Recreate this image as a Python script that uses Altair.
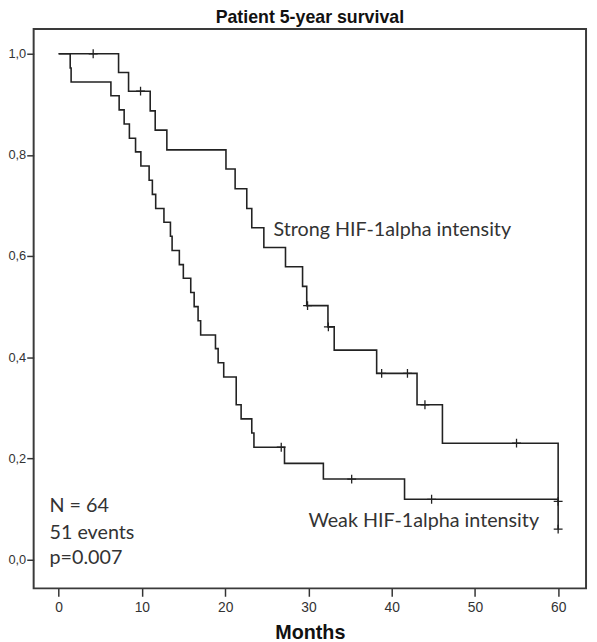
import altair as alt
import pandas as pd

# ---- data ----
strong_times = [0, 7.2, 8.4, 11.0, 11.6, 13.0, 20.1, 21.2, 22.6, 23.2, 24.65, 27.25,
                29.3, 29.8, 32.35, 33.1, 38.2, 43.05, 46.1, 60.0]
strong_surv = [1.0, 0.963, 0.926, 0.887, 0.849, 0.810, 0.772, 0.733, 0.694, 0.656, 0.617,
               0.579, 0.540, 0.502, 0.460, 0.414, 0.368, 0.306, 0.230, 0.115]
strong_cens_t = [4.15, 9.84, 29.9, 32.4, 38.8, 41.9, 44.0, 55.0, 60.0]
strong_cens_s = [1.0, 0.926, 0.502, 0.460, 0.368, 0.368, 0.306, 0.230, 0.115]

weak_times = [0, 1.39, 1.5, 6.28, 7.27, 7.87, 8.5, 9.24, 9.88, 10.87, 11.26, 11.66, 12.65,
              13.43, 13.63, 14.5, 14.98, 15.87, 16.28, 16.75, 17.06, 18.84, 19.16, 19.83,
              21.33, 21.92, 23.2, 23.46, 27.13, 31.8, 41.55, 60.0]
weak_surv = [1.0, 0.972, 0.944, 0.917, 0.889, 0.861, 0.833, 0.806, 0.778, 0.750, 0.722,
             0.694, 0.667, 0.639, 0.611, 0.583, 0.556, 0.528, 0.500, 0.472, 0.444, 0.417,
             0.389, 0.361, 0.306, 0.278, 0.250, 0.222, 0.190, 0.159, 0.119, 0.060]
weak_cens_t = [26.74, 35.2, 44.8, 60.0]
weak_cens_s = [0.222, 0.159, 0.119, 0.060]

label_text = ["Strong HIF-1alpha intensity", "Weak HIF-1alpha intensity",
              "N = 64", "51 events", "p=0.007"]
label_x = [25.8, 30.0, -1.1, -1.1, -1.1]
label_y = [0.640, 0.064, 0.093, 0.041, -0.008]

x_ticks = [0, 10, 20, 30, 40, 50, 60]
y_ticks = [0.0, 0.2, 0.4, 0.6, 0.8, 1.0]

# ---- tables ----
curves = pd.concat([
    pd.DataFrame({"t": strong_times, "s": strong_surv, "g": "Strong"}),
    pd.DataFrame({"t": weak_times, "s": weak_surv, "g": "Weak"}),
])
cens = pd.concat([
    pd.DataFrame({"t": strong_cens_t, "s": strong_cens_s, "g": "Strong"}),
    pd.DataFrame({"t": weak_cens_t, "s": weak_cens_s, "g": "Weak"}),
])
labels = pd.DataFrame({"t": label_x, "s": label_y, "txt": label_text})

INK = "#222222"
GRAY = "#333333"

xscale = alt.Scale(domain=[-3.0, 63.35], nice=False, zero=False)
yscale = alt.Scale(domain=[-0.0571, 1.0488], nice=False, zero=False)

xenc = alt.X("t:Q", scale=xscale,
             axis=alt.Axis(values=x_ticks, title="Months", grid=False, domain=False,
                           tickSize=8, tickColor=GRAY, tickWidth=1.5,
                           labelFont="Liberation Sans", labelFontSize=14, labelColor=GRAY,
                           labelPadding=4, titleFont="Liberation Sans", titleFontSize=20,
                           titleFontWeight="bold", titleColor="#111111", titlePadding=9))
yenc = alt.Y("s:Q", scale=yscale,
             axis=alt.Axis(values=y_ticks, title=None, grid=False, domain=False,
                           tickSize=7, tickColor=GRAY, tickWidth=1.5,
                           labelFont="Liberation Sans", labelFontSize=13, labelColor=GRAY,
                           labelPadding=1,
                           labelExpr="replace(format(datum.value, '.1f'), '.', ',')"))

lines = alt.Chart(curves).mark_line(interpolate="step-after", color=INK, strokeWidth=1.6).encode(
    x=xenc, y=yenc, detail="g:N")

marks = alt.Chart(cens).mark_point(shape="M-1,0H1M0,-1V1", filled=False, size=81,
                                   strokeWidth=1.3, color=INK, opacity=1).encode(
    x="t:Q", y="s:Q")

texts = alt.Chart(labels).mark_text(align="left", baseline="alphabetic", font="Lato",
                                    fontSize=20, color=GRAY).encode(
    x="t:Q", y="s:Q", text="txt:N")

chart = alt.layer(lines, marks, texts).properties(
    width=560, height=567,
    title=alt.TitleParams("Patient 5-year survival", font="Liberation Sans", fontSize=18,
                          fontWeight="bold", color="#111111", anchor="middle", offset=2),
    autosize=alt.AutoSizeParams(type="none"),
    padding={"left": 26, "top": 17, "right": 3, "bottom": 50},
).configure(
    background="white",
    view=alt.ViewConfig(stroke="#3a3a3a", strokeWidth=2),
)

chart.save("out.html", embed_options={"renderer": "svg", "actions": False})
